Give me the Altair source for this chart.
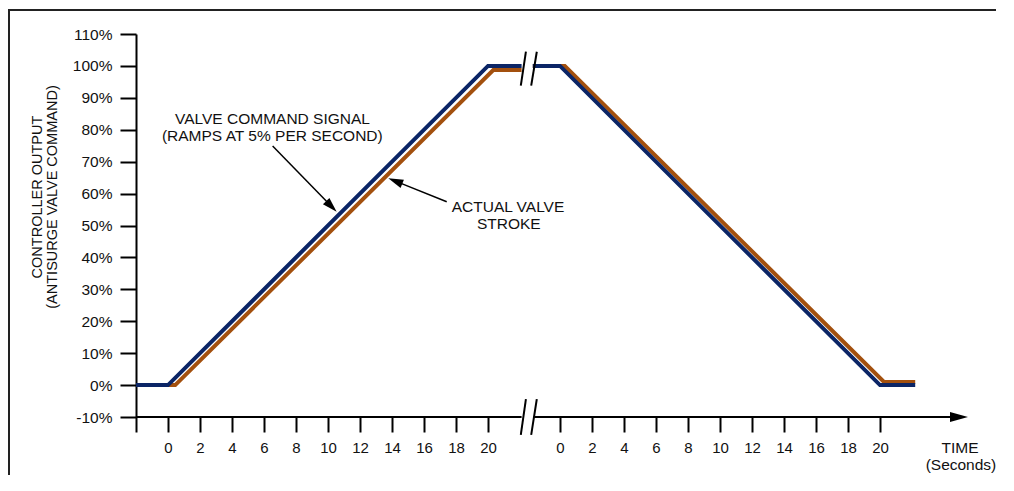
import math
import altair as alt
import pandas as pd

# ---------------- data ----------------
TICK_TIMES = list(range(0, 21, 2))          # seconds, labelled on each panel
SEG2_SHIFT = 24.5                            # second panel placed after the break
Y_TICKS = list(range(-10, 111, 10))          # percent

# valve command signal (ramps at 5 % per second)
cmd_t1 = [-2, 0, 20, 22.1]
cmd_v1 = [0, 0, 100, 100]
cmd_t2 = [-1.7, 0, 20, 22.2]
cmd_v2 = [100, 100, 0, 0]

# actual valve stroke (lags slightly)
act_t1 = [-2, 0.45, 20.33, 22.1]
act_v1 = [0, 0, 98.7, 98.7]
act_t2 = [-1.7, 0.3, 20.25, 22.2]
act_v2 = [100, 100, 1.0, 1.0]

note_text = ["VALVE COMMAND SIGNAL", "(RAMPS AT 5% PER SECOND)", "ACTUAL VALVE", "STROKE",
             "TIME", "(Seconds)"]
note_u = [6.53, 6.52, 21.25, 21.3, 49.5, 49.56]
note_v = [83.4, 78.0, 55.8, 50.4, -19.6, -24.9]

arrow_start_u = [6.54, 17.42]
arrow_start_v = [74.9, 57.45]
arrow_tip_u = [10.54, 13.77]
arrow_tip_v = [54.3, 64.8]

axis_pieces_u = [-2, 22.85]
axis_pieces_u2 = [22.1, 49.3]

# ---------------- geometry helpers ----------------
W, H = 832, 383
PAD = {"left": 128, "top": 26, "right": 30, "bottom": 59}
XDOM = [-2, 50]
YDOM = [-10, 110]
PX_U = W / (XDOM[1] - XDOM[0])
PX_V = H / (YDOM[1] - YDOM[0])
FONT = "Liberation Sans"
BLUE = "#0b2566"
BROWN = "#a3500e"
INK = "#111111"


def frame(t, v, seg, shift):
    return pd.DataFrame({"u": [x + shift for x in t], "v": v, "seg": seg})


cmd_df = pd.concat([frame(cmd_t1, cmd_v1, 1, 0), frame(cmd_t2, cmd_v2, 2, SEG2_SHIFT)])
act_df = pd.concat([frame(act_t1, act_v1, 1, 0), frame(act_t2, act_v2, 2, SEG2_SHIFT)])

notes_df = pd.DataFrame({"label": note_text, "u": note_u, "v": note_v})

arrows = []
for su, sv, tu, tv in zip(arrow_start_u, arrow_start_v, arrow_tip_u, arrow_tip_v):
    dx = (tu - su) * PX_U
    dy = -(tv - sv) * PX_V
    ang = math.atan2(dy, dx)
    cx, cy = math.cos(ang), math.sin(ang)
    arrows.append({
        "su": su, "sv": sv, "tu": tu, "tv": tv,
        "eu": tu - 9 * cx / PX_U, "ev": tv + 9 * cy / PX_V,
        "angle": (math.degrees(ang)) % 360,
    })
arrows_df = pd.DataFrame(arrows)

axis_df = pd.DataFrame({"u": axis_pieces_u, "u2": axis_pieces_u2, "v": [-10, -10]})
axis_tip_df = pd.DataFrame({"u": [XDOM[1]], "v": [-10]})

slash_df = pd.DataFrame({
    "u": [22.05, 22.7, 22.05, 22.7],
    "u2": [22.37, 23.05, 22.37, 23.05],
    "v": [93.8, 93.8, -15.6, -15.6],
    "v2": [104.45, 104.45, -4.4, -4.4],
})

xs = alt.Scale(domain=XDOM, nice=False, zero=False)
ys = alt.Scale(domain=YDOM, nice=False, zero=False)

x_tick_values = [-2] + TICK_TIMES + [t + SEG2_SHIFT for t in TICK_TIMES]

x_axis = alt.Axis(values=x_tick_values, domain=False, grid=False, title=None,
                  tickSize=15, tickWidth=2, tickColor="black",
                  labelExpr="datum.value < 0 ? '' : (datum.value > 22 ? datum.value - 24.5 : datum.value)",
                  labelFontSize=15, labelFont=FONT, labelColor=INK, labelPadding=8,
                  labelFlush=False, labelOverlap=False, labelBound=False)
y_axis = alt.Axis(values=Y_TICKS, grid=False, title=None, domainColor="black", domainWidth=2,
                  tickSize=16, tickWidth=2, tickColor="black",
                  labelExpr="datum.value + '%'", labelFontSize=15.5, labelFont=FONT,
                  labelColor=INK, labelPadding=8, labelFlush=False, labelOverlap=False,
                  labelBound=False)


def X(field):
    return alt.X(field, scale=xs, axis=x_axis)


def Y(field):
    return alt.Y(field, scale=ys, axis=y_axis)


one = pd.DataFrame({"k": [0]})
right_edge = W + PAD["right"] - 2
bottom_edge = H + PAD["bottom"] - 1
border_left = alt.Chart(one).mark_rule(color="#222222", strokeWidth=2).encode(
    x=alt.value(-127), y=alt.value(-25), y2=alt.value(bottom_edge))
border_top = alt.Chart(one).mark_rule(color="#222222", strokeWidth=2).encode(
    x=alt.value(-128), x2=alt.value(right_edge), y=alt.value(-24))

act_line = alt.Chart(act_df).mark_line(color=BROWN, strokeWidth=4, strokeCap="butt").encode(
    x=X("u:Q"), y=Y("v:Q"), detail="seg:N")
cmd_line = alt.Chart(cmd_df).mark_line(color=BLUE, strokeWidth=4, strokeCap="butt").encode(
    x=X("u:Q"), y=Y("v:Q"), detail="seg:N")

axis_line = alt.Chart(axis_df).mark_rule(color="black", strokeWidth=2).encode(
    x=X("u:Q"), x2="u2:Q", y=Y("v:Q"))
axis_tip = alt.Chart(axis_tip_df).mark_point(
    shape="M 0 0 L -2 -0.556 L -2 0.556 Z", size=324, filled=True, color="black",
    opacity=1, strokeWidth=0
).encode(x=X("u:Q"), y=Y("v:Q"))

slashes = alt.Chart(slash_df).mark_rule(color="black", strokeWidth=2).encode(
    x=X("u:Q"), x2="u2:Q", y=Y("v:Q"), y2="v2:Q")

arrow_shaft = alt.Chart(arrows_df).mark_rule(color="black", strokeWidth=1.5).encode(
    x=X("su:Q"), x2="eu:Q", y=Y("sv:Q"), y2="ev:Q")
arrow_head = alt.Chart(arrows_df).mark_point(
    shape="M 0 0 L -2 -0.6 L -2 0.6 Z", size=225, filled=True, color="black",
    opacity=1, strokeWidth=0
).encode(x=X("tu:Q"), y=Y("tv:Q"), angle=alt.Angle("angle:Q", scale=None))

notes = alt.Chart(notes_df).mark_text(font=FONT, fontSize=15.5, color=INK, align="center",
                                      baseline="middle").encode(
    x=X("u:Q"), y=Y("v:Q"), text="label:N")

ytitle1 = alt.Chart(pd.DataFrame({"t": ["CONTROLLER OUTPUT"]})).mark_text(
    font=FONT, fontSize=14.5, color=INK, angle=270, align="center", baseline="middle"
).encode(x=alt.value(-98), y=alt.value(163), text="t:N")
ytitle2 = alt.Chart(pd.DataFrame({"t": ["(ANTISURGE VALVE COMMAND)"]})).mark_text(
    font=FONT, fontSize=14.5, color=INK, angle=270, align="center", baseline="middle"
).encode(x=alt.value(-83), y=alt.value(163), text="t:N")

chart = alt.layer(
    border_left, border_top, act_line, cmd_line, axis_line, axis_tip, slashes,
    arrow_shaft, arrow_head, notes, ytitle1, ytitle2
).properties(
    width=W, height=H,
    autosize=alt.AutoSizeParams(type="none"),
    padding=PAD,
    background="white",
).configure_view(strokeWidth=0).configure_axis(labelOverlap=False)

chart.save("out.html", embed_options={"renderer": "svg", "actions": False})
